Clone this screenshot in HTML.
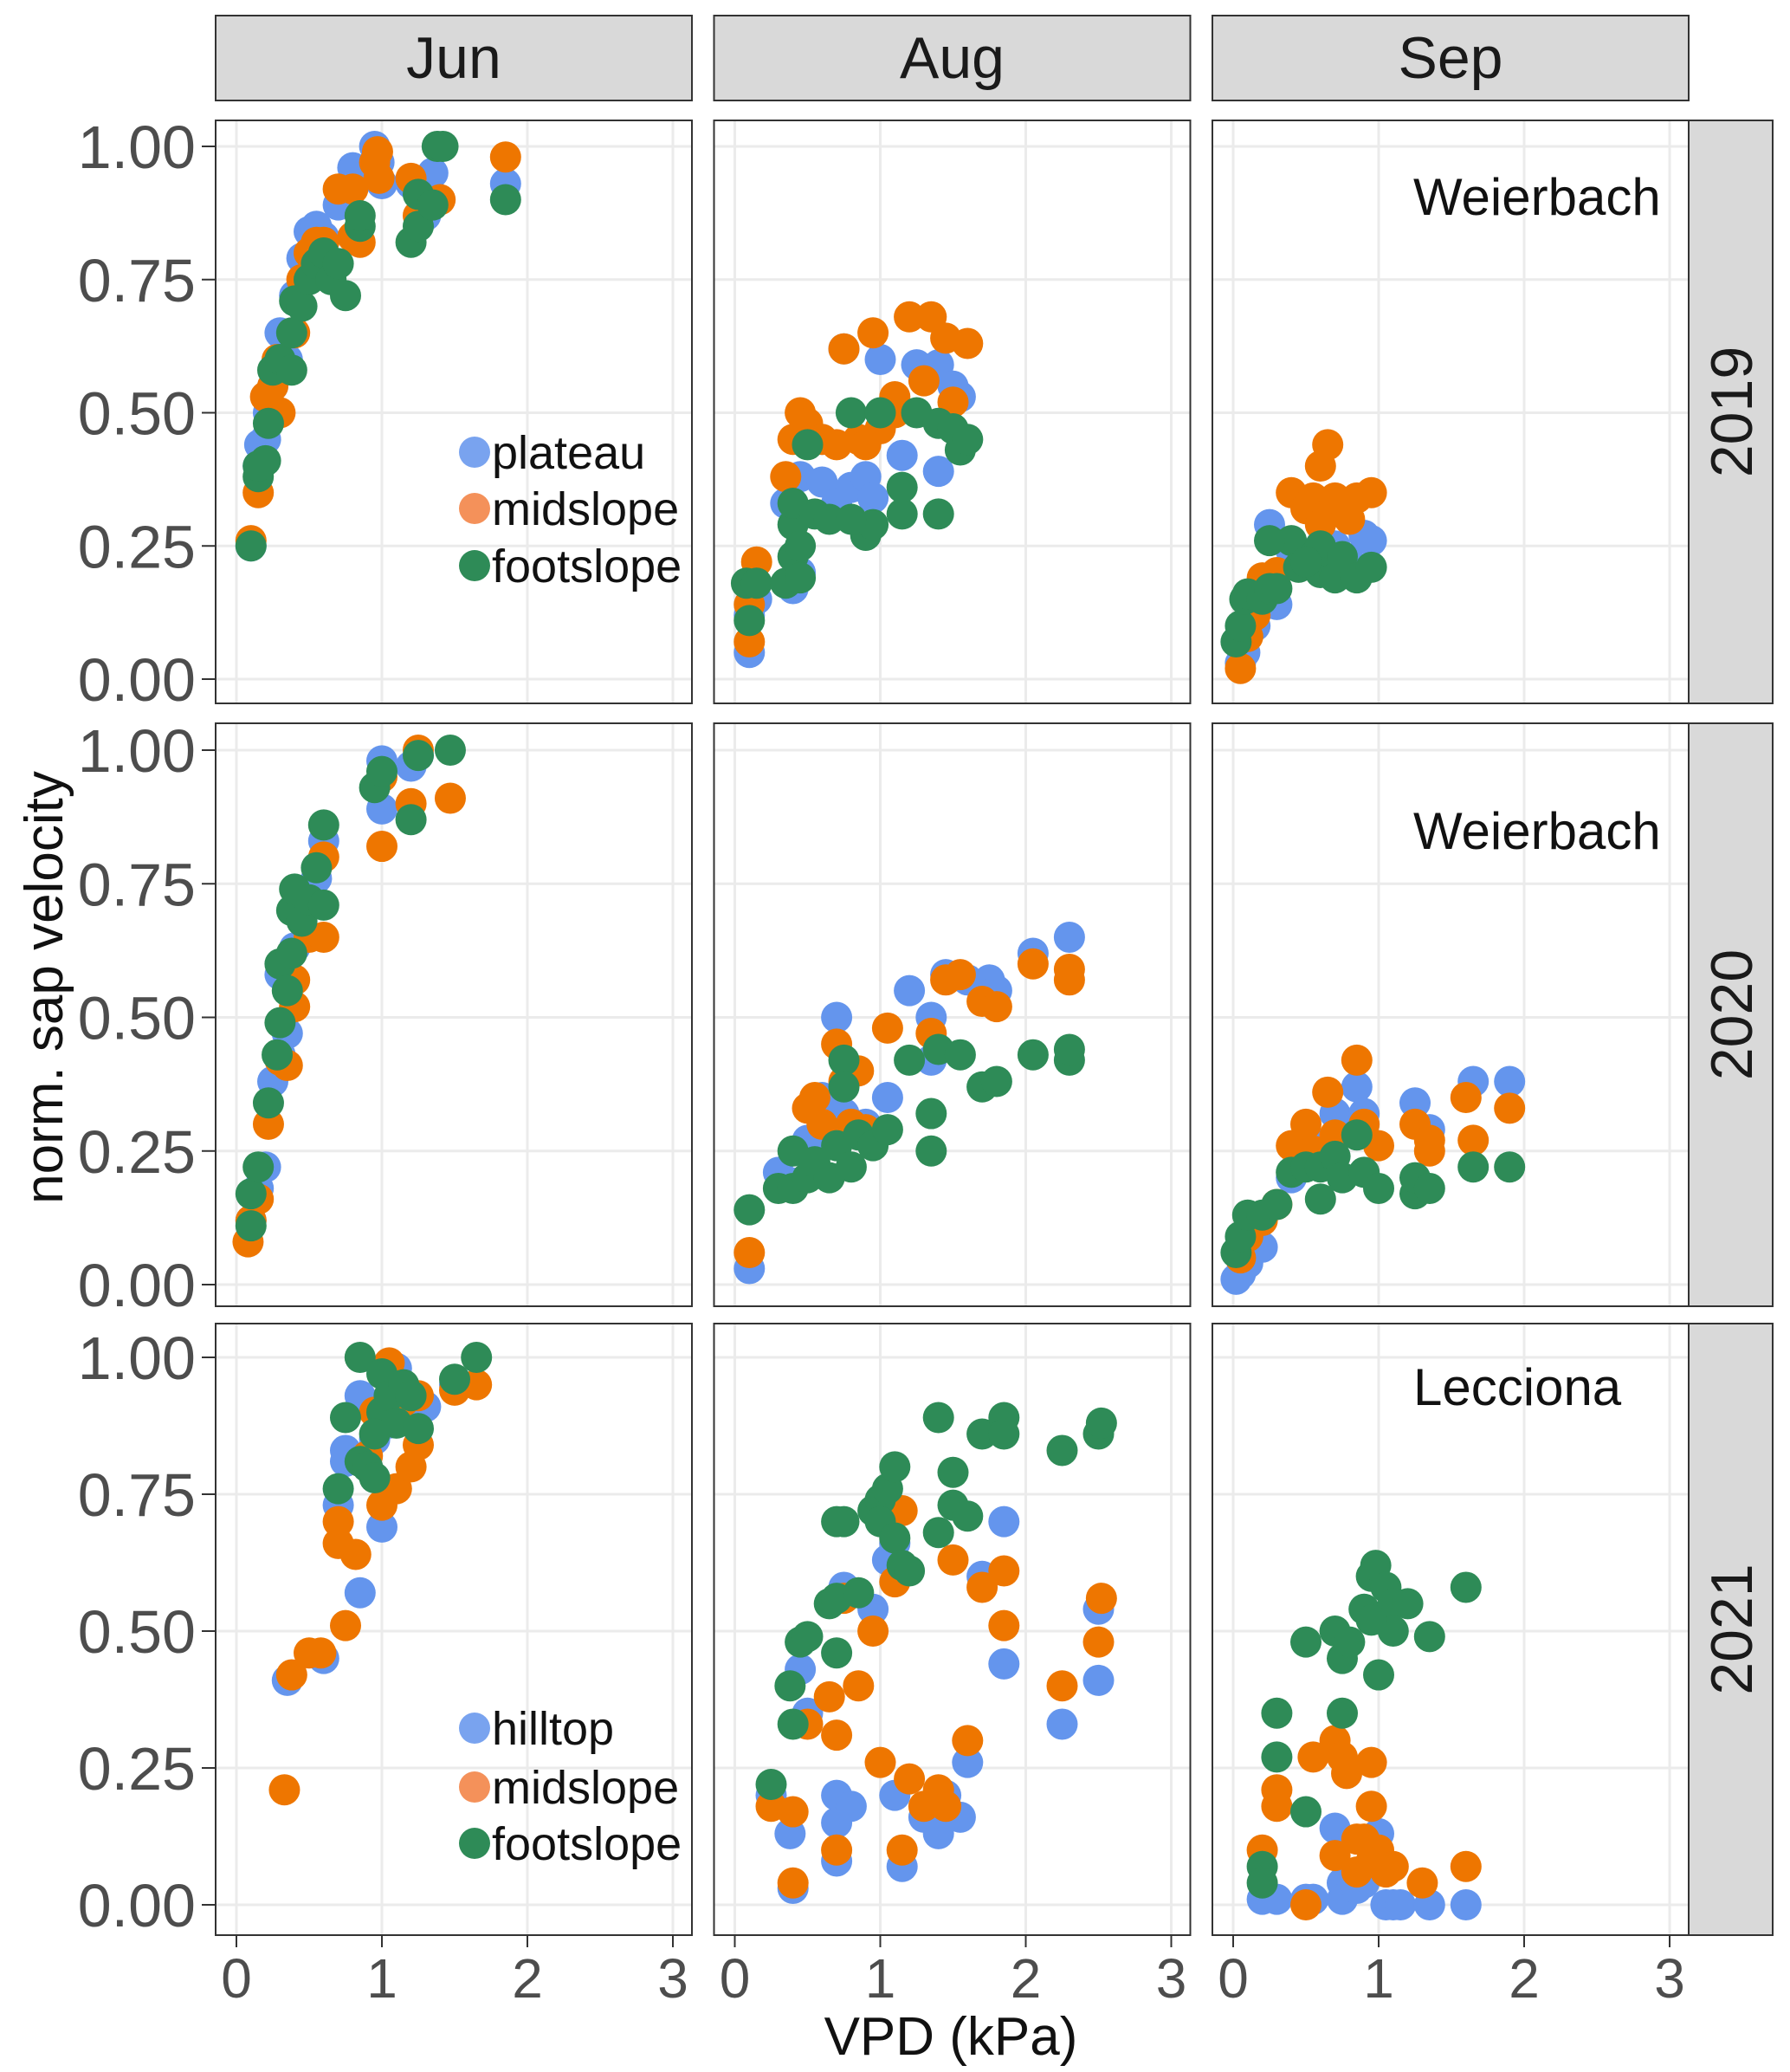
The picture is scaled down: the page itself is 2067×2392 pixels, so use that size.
<!DOCTYPE html>
<html><head><meta charset="utf-8">
<style>
html,body{margin:0;padding:0;background:#fff;}
svg{display:block;font-family:"Liberation Sans",sans-serif;}
</style></head>
<body>
<svg id="chart" width="2067" height="2392" viewBox="0 0 2067 2392" xmlns="http://www.w3.org/2000/svg"></svg>
<script>
// ---- data (VPD kPa, normalized sap velocity) ----
const months = ["Jun","Aug","Sep"];
const years = ["2019","2020","2021"];
const sites = ["Weierbach","Weierbach","Lecciona"];
const yTicks = [0,0.25,0.5,0.75,1];
const yTickLabels = ["0.00","0.25","0.50","0.75","1.00"];
const xTicks = [0,1,2,3];
const xTickLabels = ["0","1","2","3"];
const legend2019 = ["plateau","midslope","footslope"];
const legend2021 = ["hilltop","midslope","footslope"];

const jun2019_blue=[[0.15,0.40],[0.16,0.44],[0.2,0.45],[0.25,0.55],[0.3,0.65],[0.35,0.6],[0.4,0.72],[0.45,0.79],[0.5,0.84],[0.55,0.85],[0.6,0.83],[0.7,0.89],[0.8,0.96],[0.85,0.95],[0.95,1.0],[0.98,0.97],[1.0,0.93],[1.2,0.93],[1.3,0.87],[1.35,0.95],[1.85,0.93],[0.1,0.25],[0.22,0.5]];
const jun2019_orange=[[0.1,0.26],[0.15,0.35],[0.2,0.53],[0.25,0.55],[0.28,0.6],[0.3,0.5],[0.4,0.65],[0.45,0.75],[0.5,0.8],[0.55,0.82],[0.6,0.82],[0.7,0.92],[0.8,0.92],[0.85,0.82],[0.95,0.97],[0.98,0.94],[0.97,0.99],[1.2,0.94],[1.25,0.87],[1.4,0.9],[1.85,0.98],[0.8,0.83]];
const jun2019_green=[[0.1,0.25],[0.15,0.38],[0.15,0.40],[0.2,0.41],[0.22,0.48],[0.25,0.58],[0.3,0.6],[0.38,0.58],[0.38,0.65],[0.4,0.71],[0.45,0.70],[0.5,0.75],[0.55,0.78],[0.6,0.80],[0.65,0.75],[0.7,0.78],[0.75,0.72],[0.85,0.85],[0.85,0.87],[1.2,0.82],[1.25,0.85],[1.25,0.91],[1.35,0.89],[1.38,1.0],[1.42,1.0],[1.85,0.90]];
const aug2019_blue=[[0.1,0.05],[0.1,0.12],[0.15,0.15],[0.4,0.17],[0.45,0.2],[0.35,0.33],[0.45,0.38],[0.6,0.37],[0.7,0.33],[0.8,0.36],[0.9,0.38],[0.95,0.34],[0.75,0.62],[1.0,0.60],[1.15,0.42],[1.25,0.59],[1.4,0.59],[1.5,0.55],[1.55,0.53],[1.4,0.39],[1.3,0.57],[0.6,0.45]];
const aug2019_orange=[[0.1,0.07],[0.1,0.14],[0.15,0.22],[0.35,0.38],[0.4,0.45],[0.45,0.5],[0.5,0.48],[0.6,0.45],[0.7,0.44],[0.75,0.62],[0.85,0.45],[0.95,0.65],[1.0,0.47],[1.1,0.5],[1.2,0.68],[1.35,0.68],[1.45,0.64],[1.6,0.63],[1.5,0.52],[1.3,0.56],[0.9,0.44],[1.1,0.53]];
const aug2019_green=[[0.08,0.18],[0.1,0.11],[0.15,0.18],[0.35,0.18],[0.4,0.23],[0.4,0.29],[0.45,0.19],[0.45,0.25],[0.4,0.33],[0.5,0.44],[0.55,0.31],[0.65,0.30],[0.8,0.50],[0.9,0.27],[0.95,0.29],[1.0,0.50],[0.8,0.30],[1.15,0.31],[1.15,0.36],[1.25,0.50],[1.4,0.31],[1.4,0.48],[1.5,0.47],[1.55,0.43],[1.6,0.45]];
const sep2019_blue=[[0.05,0.03],[0.08,0.05],[0.1,0.1],[0.15,0.1],[0.2,0.15],[0.25,0.29],[0.3,0.14],[0.5,0.22],[0.6,0.25],[0.7,0.25],[0.8,0.22],[0.9,0.27],[0.95,0.26],[0.4,0.24]];
const sep2019_orange=[[0.05,0.02],[0.1,0.08],[0.15,0.12],[0.2,0.19],[0.3,0.20],[0.4,0.35],[0.5,0.32],[0.55,0.34],[0.6,0.4],[0.65,0.44],[0.65,0.31],[0.7,0.34],[0.75,0.33],[0.85,0.34],[0.95,0.35],[0.6,0.29],[0.8,0.30]];
const sep2019_green=[[0.02,0.07],[0.05,0.1],[0.08,0.15],[0.1,0.16],[0.2,0.15],[0.25,0.17],[0.3,0.17],[0.4,0.26],[0.45,0.21],[0.55,0.23],[0.6,0.25],[0.6,0.2],[0.7,0.19],[0.75,0.23],[0.85,0.19],[0.95,0.21],[0.25,0.26],[0.5,0.22]];
const jun2020_blue=[[0.1,0.12],[0.15,0.18],[0.2,0.22],[0.25,0.38],[0.3,0.43],[0.35,0.47],[0.3,0.58],[0.4,0.63],[0.45,0.72],[0.55,0.76],[0.6,0.83],[1.0,0.98],[1.0,0.89],[1.2,0.97],[1.25,0.99]];
const jun2020_orange=[[0.08,0.08],[0.1,0.12],[0.15,0.16],[0.22,0.30],[0.3,0.42],[0.35,0.41],[0.4,0.52],[0.4,0.57],[0.5,0.65],[0.6,0.65],[0.6,0.8],[1.0,0.82],[1.0,0.95],[1.2,0.9],[1.25,1.0],[1.47,0.91]];
const jun2020_green=[[0.1,0.11],[0.1,0.17],[0.15,0.22],[0.22,0.34],[0.28,0.43],[0.3,0.49],[0.3,0.6],[0.35,0.55],[0.38,0.62],[0.38,0.70],[0.4,0.74],[0.45,0.68],[0.5,0.72],[0.55,0.78],[0.6,0.71],[0.6,0.86],[0.95,0.93],[1.0,0.96],[1.2,0.87],[1.25,0.99],[1.47,1.0]];
const aug2020_blue=[[0.1,0.03],[0.3,0.21],[0.4,0.19],[0.5,0.27],[0.6,0.35],[0.7,0.5],[0.75,0.32],[0.8,0.3],[0.9,0.3],[1.05,0.35],[1.2,0.55],[1.35,0.5],[1.45,0.58],[1.6,0.57],[1.75,0.57],[1.8,0.55],[2.05,0.62],[2.3,0.65],[1.35,0.42]];
const aug2020_orange=[[0.1,0.06],[0.5,0.33],[0.55,0.35],[0.6,0.3],[0.7,0.45],[0.75,0.38],[0.8,0.3],[0.85,0.4],[0.9,0.29],[1.05,0.48],[1.35,0.47],[1.45,0.57],[1.55,0.58],[1.7,0.53],[1.8,0.52],[2.05,0.6],[2.3,0.59],[2.3,0.57]];
const aug2020_green=[[0.1,0.14],[0.3,0.18],[0.4,0.18],[0.4,0.25],[0.5,0.2],[0.55,0.23],[0.65,0.2],[0.7,0.26],[0.75,0.42],[0.75,0.37],[0.8,0.22],[0.85,0.28],[0.95,0.26],[1.05,0.29],[1.2,0.42],[1.35,0.25],[1.35,0.32],[1.4,0.44],[1.55,0.43],[1.7,0.37],[1.8,0.38],[2.05,0.43],[2.3,0.42],[2.3,0.44]];
const sep2020_blue=[[0.02,0.01],[0.05,0.02],[0.1,0.04],[0.2,0.07],[0.4,0.2],[0.6,0.26],[0.7,0.32],[0.8,0.3],[0.85,0.37],[0.9,0.32],[1.25,0.34],[1.35,0.29],[1.65,0.38],[1.9,0.38]];
const sep2020_orange=[[0.05,0.05],[0.1,0.09],[0.2,0.12],[0.3,0.15],[0.4,0.26],[0.5,0.3],[0.55,0.25],[0.65,0.36],[0.7,0.28],[0.85,0.42],[0.9,0.3],[1.0,0.26],[1.25,0.3],[1.35,0.25],[1.35,0.27],[1.6,0.35],[1.65,0.27],[1.9,0.33]];
const sep2020_green=[[0.02,0.06],[0.05,0.09],[0.1,0.13],[0.2,0.13],[0.3,0.15],[0.4,0.21],[0.5,0.22],[0.6,0.16],[0.6,0.22],[0.7,0.24],[0.75,0.2],[0.85,0.28],[0.9,0.21],[1.0,0.18],[1.25,0.17],[1.25,0.2],[1.35,0.18],[1.65,0.22],[1.9,0.22]];
const jun2021_blue=[[0.35,0.41],[0.6,0.45],[0.7,0.73],[0.75,0.83],[0.75,0.81],[0.85,0.57],[0.85,0.93],[0.95,0.85],[1.0,0.69],[1.05,0.88],[1.1,0.98],[1.2,0.9],[1.3,0.91],[1.5,0.95]];
const jun2021_orange=[[0.33,0.21],[0.38,0.42],[0.5,0.46],[0.58,0.46],[0.7,0.66],[0.7,0.7],[0.75,0.51],[0.82,0.64],[0.9,0.82],[0.95,0.9],[1.0,0.73],[1.05,0.99],[1.1,0.76],[1.15,0.92],[1.2,0.8],[1.25,0.84],[1.25,0.93],[1.5,0.94],[1.65,0.95]];
const jun2021_green=[[0.7,0.76],[0.75,0.89],[0.85,1.0],[0.85,0.81],[0.9,0.8],[0.95,0.78],[1.0,0.9],[1.0,0.97],[1.05,0.93],[1.1,0.88],[1.15,0.95],[1.2,0.93],[1.25,0.87],[1.5,0.96],[1.65,1.0],[0.95,0.86]];
const aug2021_blue=[[0.25,0.2],[0.38,0.13],[0.4,0.03],[0.45,0.43],[0.5,0.35],[0.7,0.2],[0.7,0.15],[0.7,0.08],[0.75,0.58],[0.8,0.18],[0.95,0.54],[1.05,0.63],[1.1,0.2],[1.15,0.07],[1.1,0.66],[1.3,0.16],[1.4,0.13],[1.45,0.2],[1.55,0.16],[1.6,0.26],[1.7,0.6],[1.85,0.44],[1.85,0.7],[2.25,0.33],[2.5,0.41],[2.5,0.54]];
const aug2021_orange=[[0.25,0.18],[0.4,0.17],[0.4,0.04],[0.5,0.33],[0.65,0.38],[0.7,0.31],[0.7,0.1],[0.75,0.56],[0.85,0.4],[0.95,0.5],[1.0,0.26],[1.1,0.59],[1.15,0.72],[1.15,0.1],[1.2,0.23],[1.3,0.18],[1.4,0.21],[1.45,0.18],[1.5,0.63],[1.6,0.3],[1.7,0.58],[1.85,0.61],[1.85,0.51],[2.25,0.4],[2.5,0.48],[2.52,0.56]];
const aug2021_green=[[0.25,0.22],[0.38,0.4],[0.4,0.33],[0.45,0.48],[0.5,0.49],[0.65,0.55],[0.7,0.56],[0.7,0.46],[0.7,0.7],[0.75,0.7],[0.85,0.57],[0.95,0.72],[1.0,0.74],[1.05,0.76],[1.1,0.8],[1.0,0.7],[1.1,0.67],[1.15,0.62],[1.2,0.61],[1.4,0.68],[1.4,0.89],[1.5,0.79],[1.5,0.73],[1.6,0.71],[1.7,0.86],[1.85,0.89],[1.85,0.86],[2.25,0.83],[2.5,0.86],[2.52,0.88]];
const sep2021_blue=[[0.2,0.01],[0.3,0.01],[0.5,0.01],[0.55,0.01],[0.7,0.14],[0.75,0.04],[0.75,0.01],[0.9,0.04],[1.0,0.13],[1.05,0.0],[1.1,0.0],[1.15,0.0],[1.35,0.0],[1.6,0.0],[0.85,0.03]];
const sep2021_orange=[[0.2,0.1],[0.3,0.18],[0.3,0.21],[0.5,0.0],[0.55,0.27],[0.7,0.3],[0.75,0.27],[0.78,0.24],[0.7,0.09],[0.85,0.12],[0.85,0.06],[0.9,0.12],[0.95,0.18],[0.95,0.26],[1.0,0.1],[1.05,0.06],[1.1,0.07],[1.3,0.04],[1.6,0.07],[0.95,0.08]];
const sep2021_green=[[0.2,0.07],[0.2,0.04],[0.3,0.35],[0.3,0.27],[0.5,0.17],[0.5,0.48],[0.7,0.5],[0.75,0.45],[0.8,0.48],[0.75,0.35],[0.9,0.54],[0.95,0.6],[0.98,0.62],[1.05,0.58],[1.1,0.55],[1.0,0.42],[1.1,0.5],[1.2,0.55],[1.35,0.49],[1.6,0.58],[0.95,0.52]];

const panelSeries = [
  [[jun2019_blue,jun2019_orange,jun2019_green],[aug2019_blue,aug2019_orange,aug2019_green],[sep2019_blue,sep2019_orange,sep2019_green]],
  [[jun2020_blue,jun2020_orange,jun2020_green],[aug2020_blue,aug2020_orange,aug2020_green],[sep2020_blue,sep2020_orange,sep2020_green]],
  [[jun2021_blue,jun2021_orange,jun2021_green],[aug2021_blue,aug2021_orange,aug2021_green],[sep2021_blue,sep2021_orange,sep2021_green]]
];

// ---- layout ----
const NS="http://www.w3.org/2000/svg";
const svg=document.getElementById('chart');
const colors=["#6495ED","#EE7600","#2E8B57"];
const legendColors=["#79a3ef","#f4915a","#2E8B57"];
const seriesNames=["blue","orange","green"];
const colLeft=[249,824.5,1400], panelW=550;
const rowGeom=[{top:139,bottom:812,y1:169,y0:784},{top:835,bottom:1508,y1:866,y0:1483},{top:1528,bottom:2234,y1:1567,y0:2199}];
const xOff=24, xUnit=168, R=18;
function mk(tag,attrs,parent){const e=document.createElementNS(NS,tag);for(const k in attrs)e.setAttribute(k,attrs[k]);(parent||svg).appendChild(e);return e;}
function xScale(c,v){return colLeft[c]+xOff+v*xUnit;}
function yScale(r,v){const g=rowGeom[r];return g.y0+(g.y1-g.y0)*v;}

for(let c=0;c<3;c++){
  const g=mk('g',{});
  
  
  mk('rect',{x:colLeft[c],y:18,width:panelW,height:98,fill:"#d9d9d9",stroke:"#333",'stroke-width':2},g);
  const t=mk('text',{x:colLeft[c]+panelW/2,y:90,'text-anchor':'middle','font-size':68,fill:'#1a1a1a'},g);
  t.textContent=months[c];
}
for(let r=0;r<3;r++){
  const G=rowGeom[r];
  const g=mk('g',{});
  
  
  mk('rect',{x:1950,y:G.top,width:97,height:G.bottom-G.top,fill:"#d9d9d9",stroke:"#333",'stroke-width':2},g);
  const cy=(G.top+G.bottom)/2;
  const t=mk('text',{x:2023,y:cy,'text-anchor':'middle','font-size':68,fill:'#1a1a1a',transform:`rotate(-90 2023 ${cy})`},g);
  t.textContent=years[r];
}

for(let r=0;r<3;r++){
  const G=rowGeom[r];
  for(let c=0;c<3;c++){
    const g=mk('g',{});
    
    
    mk('rect',{x:colLeft[c],y:G.top,width:panelW,height:G.bottom-G.top,fill:'#fff'},g);
    for(const v of yTicks){const y=yScale(r,v);mk('line',{x1:colLeft[c],x2:colLeft[c]+panelW,y1:y,y2:y,stroke:'#ebebeb','stroke-width':3},g);}
    for(const v of xTicks){const x=xScale(c,v);mk('line',{x1:x,x2:x,y1:G.top,y2:G.bottom,stroke:'#ebebeb','stroke-width':3},g);}
    const ser=panelSeries[r][c];
    for(let s=0;s<3;s++){
      for(const p of ser[s]){
        const ci=mk('circle',{cx:xScale(c,p[0]),cy:yScale(r,p[1]),r:R,fill:colors[s]},g);
        
        
      }
    }
    mk('rect',{x:colLeft[c],y:G.top,width:panelW,height:G.bottom-G.top,fill:'none',stroke:'#333','stroke-width':2},g);
    if(c===2){
      const t=mk('text',{x:1632,y:[248,980,1622][r],'font-size':60,fill:'#111'},g);
      
      
      t.textContent=sites[r];
    }
  }
  const ya=mk('g',{});
  
  
  yTicks.forEach((v,i)=>{const y=yScale(r,v);
    mk('line',{x1:233,x2:249,y1:y,y2:y,stroke:'#333','stroke-width':2},ya);
    const t=mk('text',{x:226,y:y+25,'text-anchor':'end','font-size':70,fill:'#4d4d4d'},ya);t.textContent=yTickLabels[i];});
}
for(let c=0;c<3;c++){
  const xa=mk('g',{});
  
  
  xTicks.forEach((v,i)=>{const x=xScale(c,v);
    mk('line',{x1:x,x2:x,y1:2234,y2:2248,stroke:'#333','stroke-width':2},xa);
    const t=mk('text',{x:x,y:2306,'text-anchor':'middle','font-size':64,fill:'#4d4d4d'},xa);t.textContent=xTickLabels[i];});
}
function legend(names,ys,key){
  const g=mk('g',{});
  
  
  names.forEach((n,i)=>{
    mk('circle',{cx:548,cy:ys[i],r:18,fill:legendColors[i]},g);
    const t=mk('text',{x:568,y:ys[i]+19,'font-size':54,fill:'#111'},g);t.textContent=n;
  });
}
legend(legend2019,[522,587,653],'legend-2019');
legend(legend2021,[1995,2063,2128],'legend-2021');
const yt=mk('text',{x:72,y:1140,'text-anchor':'middle','font-size':62,fill:'#111',transform:'rotate(-90 72 1140)'});


yt.textContent='norm. sap velocity';
const xt=mk('text',{x:1098,y:2372,'text-anchor':'middle','font-size':62,fill:'#111'});


xt.textContent='VPD (kPa)';
</script>
</body></html>
